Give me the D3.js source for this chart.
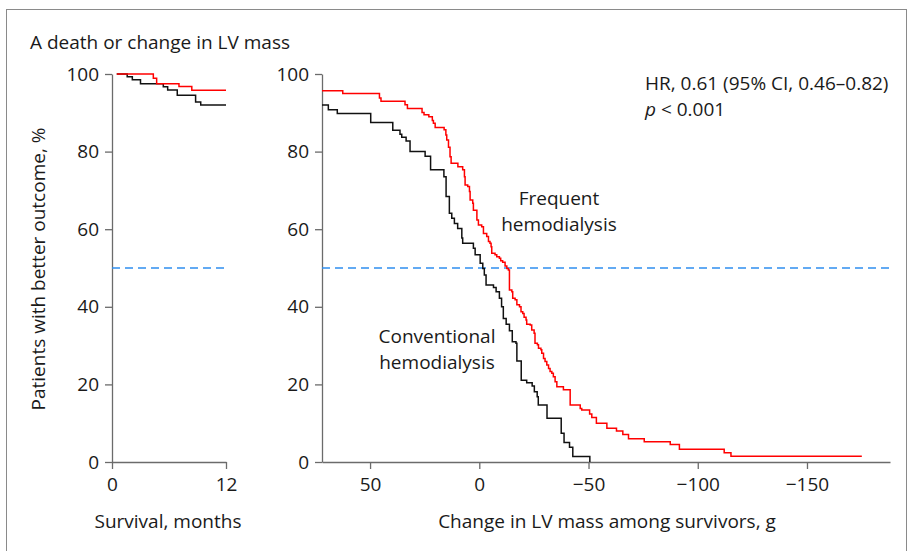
<!DOCTYPE html>
<html>
<head>
<meta charset="utf-8">
<script src="https://cdn.jsdelivr.net/npm/d3@7"></script>
<style>
  html, body { margin: 0; padding: 0; background: #fff; }
  svg text { font-family: "Open Sans", "Noto Sans", sans-serif; fill: #1a1a1a; }
</style>
</head>
<body>
<svg id="chart" width="912" height="551"></svg>
<script>
// ---------- Data ----------
const yTicks = [0, 20, 40, 60, 80, 100];
const survTicks = [0, 12];
const massTicks = [50, 0, -50, -100, -150];

// Left panel: survival (months) vs % with better outcome
const survFreqX = [0.5, 4.35, 4.7, 7.05, 8.4, 12];
const survFreqY = [100, 98.9, 97.5, 96.8, 95.8, 95.8];
const survConvX = [0.5, 1.6, 2.14, 3.0, 5.4, 5.86, 6.87, 8.8, 9.34, 12];
const survConvY = [100, 99.3, 98.5, 97.5, 96.7, 95.9, 94.5, 92.8, 92.0, 92.0];

// Right panel: change in LV mass (g) vs % with better outcome
const massFreqX = [72, 62.5, 45.7, 45.0, 34.0, 32.9, 26.2, 25.3, 23.1, 21.5, 21.0, 20.2, 16.1, 15.3, 14.9, 14.1,
  13.4, 12.9, 9.8, 7.6, 6.8, 6.5, 5.3, 4.5, 4.2, 3.0, 2.7, 1.1, 0.4, -1.1, -1.9, -3.4, -4.2, -4.9, -5.4, -5.7,
  -7.2, -8.0, -9.2, -9.8, -10.7, -11.8, -12.6, -13.3, -13.8, -14.9, -15.3, -16.4, -17.2, -18.4, -19.1, -19.9,
  -20.5, -21.4, -21.7, -23.3, -24.0, -25.1, -25.5, -26.6, -27.1, -28.2, -28.6, -29.4, -30.1, -30.9, -31.7,
  -32.4, -33.2, -33.9, -34.7, -35.5, -38.5, -41.6, -46.2, -46.9, -50.5, -51.5, -53.6, -58.4, -62.8, -65.7,
  -68.3, -75.5, -87.4, -91.6, -112.1, -115.2, -175.1];
const massFreqY = [95.7, 95.0, 93.8, 93.0, 92.1, 91.1, 90.1, 89.5, 89.0, 88.0, 87.3, 86.2, 85.6, 84.3, 83.0, 81.1,
  78.7, 77.0, 76.1, 75.3, 73.5, 71.4, 71.0, 69.7, 67.5, 66.7, 64.9, 62.4, 61.1, 60.6, 58.9, 58.1, 56.8, 56.4, 55.5, 53.8,
  53.4, 52.9, 52.5, 51.9, 51.5, 50.5, 49.9, 49.5, 44.3, 43.9, 42.2, 41.8, 40.5, 40.0, 38.7, 38.3,
  37.3, 36.6, 35.5, 35.3, 34.0, 33.2, 30.6, 30.2, 29.3, 28.9, 28.0, 26.7, 25.9, 25.0, 24.1,
  23.3, 22.9, 22.0, 20.7, 19.4, 18.6, 14.7, 13.8, 13.4, 12.4, 11.5, 10.0, 8.7, 8.0, 7.1,
  6.0, 5.2, 4.5, 3.3, 2.4, 1.5, 1.5];
const massConvX = [72, 69.1, 65.0, 49.7, 39.6, 36.3, 35.5, 33.5, 31.7, 24.8, 22.3, 16.2, 15.2, 13.7, 12.6, 11.4,
  9.9, 8.0, 7.6, 2.7, 1.9, -0.4, -1.6, -2.3, -3.1, -6.5, -7.7, -9.2, -10.2, -11.0, -12.3, -13.8, -15.1, -16.8,
  -17.2, -19.2, -21.7, -24.2, -25.2, -26.5, -27.0, -31.0, -37.5, -38.8, -41.3, -42.8, -50.6, -50.6];
const massConvY = [92.0, 90.8, 89.8, 87.5, 85.5, 84.5, 83.7, 82.7, 80.0, 78.8, 75.3, 73.5, 68.4, 64.1, 62.8, 61.5,
  60.2, 57.7, 56.4, 55.1, 53.4, 51.2, 49.9, 48.2, 45.6, 45.0, 43.9, 42.2, 40.0, 37.0, 35.5, 33.8, 31.0, 30.6,
  26.0, 21.1, 20.4, 19.6, 18.1, 16.8, 14.7, 11.3, 7.4, 5.0, 3.8, 1.4, 0, 0];

const titleText = "A death or change in LV mass";
const yLabel = "Patients with better outcome, %";
const survLabel = "Survival, months";
const massLabel = "Change in LV mass among survivors, g";
const hrText = "HR, 0.61 (95% CI, 0.46\u20130.82)";
const freqLabel = ["Frequent", "hemodialysis"];
const convLabel = ["Conventional", "hemodialysis"];

// ---------- Drawing ----------
const svg = d3.select("#chart");
const axisColor = "#6b6b6b";
const fs = 19;
const lh = 26;

svg.append("rect").attr("x", 6.5).attr("y", 9.5).attr("width", 900).attr("height", 560)
  .attr("fill", "none").attr("stroke", "#8a8a8a").attr("stroke-width", 1);

svg.append("text").attr("x", 30).attr("y", 49).attr("font-size", fs).text(titleText);

const y = d3.scaleLinear().domain([0, 100]).range([462, 74]);
const xL = d3.scaleLinear().domain([0, 12]).range([112, 226]);
const xR = d3.scaleLinear().domain([72, -188]).range([322, 890]);

const fmt = d => d < 0 ? "\u2212" + Math.abs(d) : String(d);

function styleAxis(g) {
  g.select(".domain").attr("stroke", axisColor).attr("stroke-width", 1.3);
  g.selectAll(".tick line").attr("stroke", axisColor).attr("stroke-width", 1.3);
  g.selectAll(".tick text").attr("font-size", fs).attr("fill", "#1a1a1a")
    .style("font-family", '"Open Sans", "Noto Sans", sans-serif');
}

function panel(x, xTicks, x0) {
  svg.append("g").attr("transform", `translate(${x0},0)`)
    .call(d3.axisLeft(y).tickValues(yTicks).tickSize(7).tickPadding(6).tickSizeOuter(0))
    .call(styleAxis);
  svg.append("g").attr("transform", `translate(0,462)`)
    .call(d3.axisBottom(x).tickValues(xTicks).tickFormat(fmt).tickSize(7).tickPadding(9).tickSizeOuter(0))
    .call(styleAxis);
  // 50% reference
  svg.append("line").attr("x1", x.range()[0]).attr("x2", x.range()[1])
    .attr("y1", y(50)).attr("y2", y(50))
    .attr("stroke", "#2f8ff0").attr("stroke-width", 1.6).attr("stroke-dasharray", "8,5");
}

panel(xL, survTicks, 112);
panel(xR, massTicks, 322);

const line = (x) => d3.line().x(d => x(d[0])).y(d => y(d[1])).curve(d3.curveStepAfter);
function curve(x, xs, ys, color) {
  svg.append("path").datum(d3.zip(xs, ys)).attr("d", line(x))
    .attr("fill", "none").attr("stroke", color).attr("stroke-width", 1.5);
}
curve(xL, survConvX, survConvY, "#111");
curve(xL, survFreqX, survFreqY, "#ff0000");
curve(xR, massConvX, massConvY, "#111");
curve(xR, massFreqX, massFreqY, "#ff0000");

// axis titles
svg.append("text").attr("transform", "translate(45,269) rotate(-90)")
  .attr("text-anchor", "middle").attr("font-size", fs).text(yLabel);
svg.append("text").attr("x", 168).attr("y", 528).attr("text-anchor", "middle").attr("font-size", fs).text(survLabel);
svg.append("text").attr("x", 607).attr("y", 528).attr("text-anchor", "middle").attr("font-size", fs).text(massLabel);

// annotations
svg.append("text").attr("x", 645).attr("y", 89.5).attr("font-size", fs).text(hrText);
const pt = svg.append("text").attr("x", 645).attr("y", 89.5 + lh).attr("font-size", fs);
pt.append("tspan").attr("font-style", "italic").text("p");
pt.append("tspan").text(" < 0.001");

function block(lines, cx, y0) {
  lines.forEach((s, i) => svg.append("text").attr("x", cx).attr("y", y0 + i * lh)
    .attr("text-anchor", "middle").attr("font-size", fs).text(s));
}
block(freqLabel, 559, 204.5);
block(convLabel, 437, 342.5);
</script>
</body>
</html>
